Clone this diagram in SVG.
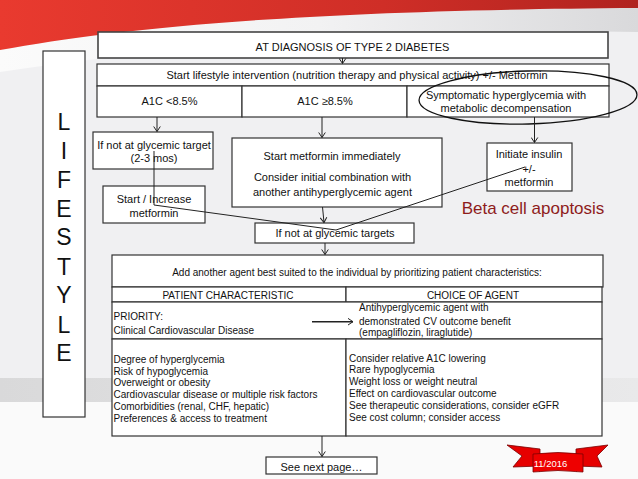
<svg xmlns="http://www.w3.org/2000/svg" width="638" height="479" viewBox="0 0 638 479">
<defs>
<linearGradient id="red" x1="0" y1="0" x2="1" y2="0">
<stop offset="0" stop-color="#e93a2f"/>
<stop offset="0.6" stop-color="#cf2e27"/>
<stop offset="1" stop-color="#b0231f"/>
</linearGradient>
<linearGradient id="under" x1="0" y1="0" x2="1" y2="0">
<stop offset="0" stop-color="#fbfbfb"/>
<stop offset="0.5" stop-color="#f2f2f3"/>
<stop offset="1" stop-color="#d9d9db"/>
</linearGradient>
<linearGradient id="band" x1="0" y1="0" x2="1" y2="0">
<stop offset="0" stop-color="#d9d9da"/>
<stop offset="1" stop-color="#e9e9ea"/>
</linearGradient>
<marker id="arr" viewBox="-6 -4 7 8" refX="0" refY="0" markerWidth="7" markerHeight="8" markerUnits="userSpaceOnUse" orient="auto">
<path d="M-5,-3.3 L0,0 L-5,3.3" fill="none" stroke="#222" stroke-width="1"/>
</marker>
<style>
.bx{fill:#fff;stroke:#333;stroke-width:1.2}
.t{font-family:"Liberation Sans",Arial,sans-serif;font-size:11px;fill:#111;text-anchor:middle}
.s{font-family:"Liberation Sans",Arial,sans-serif;font-size:10px;fill:#111}
.c{text-anchor:middle}
.big{font-family:"Liberation Sans",Arial,sans-serif;font-size:23px;fill:#111;text-anchor:middle}
.ln{fill:none;stroke:#222;stroke-width:1}
</style>
</defs>

<!-- background -->
<rect x="0" y="0" width="638" height="479" fill="#f0f0f2"/>
<rect x="0" y="378" width="638" height="24" fill="url(#band)"/>
<rect x="0" y="402" width="638" height="77" fill="#fafafa"/>
<path d="M0,50 C120,28 300,10 638,8 L638,32 C420,28 200,42 0,72 Z" fill="url(#under)"/>
<path d="M0,0 H638 V8 C300,10 120,28 0,50 Z" fill="url(#red)"/>

<!-- nodes -->
<g id="diagnosis">
<rect class="bx" x="98" y="32" width="510" height="26" style="stroke:#444;stroke-width:1.6"/>
<text class="t" x="352.5" y="50.8">AT DIAGNOSIS OF TYPE 2 DIABETES</text>
</g>

<g id="lifestyle-side">
<rect class="bx" x="43" y="51" width="42" height="366"/>
<text class="big" x="64" y="130">L</text>
<text class="big" x="64" y="159">I</text>
<text class="big" x="64" y="188">F</text>
<text class="big" x="64" y="217">E</text>
<text class="big" x="64" y="245">S</text>
<text class="big" x="64" y="275">T</text>
<text class="big" x="64" y="303">Y</text>
<text class="big" x="64" y="333">L</text>
<text class="big" x="64" y="361">E</text>
</g>

<g id="lifestyle-row">
<rect class="bx" x="97" y="64" width="512" height="22"/>
<text class="t" x="357" y="79">Start lifestyle intervention (nutrition therapy and physical activity) +/- Metformin</text>
</g>

<g id="a1c-low">
<rect class="bx" x="97" y="86" width="145" height="31"/>
<text class="t" x="169.5" y="105">A1C &lt;8.5%</text>
</g>
<g id="a1c-high">
<rect class="bx" x="242" y="86" width="165" height="31"/>
<text class="t" x="325" y="105">A1C ≥8.5%</text>
</g>
<g id="symptomatic">
<rect class="bx" x="407" y="86" width="202" height="31"/>
<text class="t" x="506" y="99">Symptomatic hyperglycemia with</text>
<text class="t" x="506" y="112.3">metabolic decompensation</text>
<ellipse cx="528" cy="97.5" rx="109" ry="26.5" fill="none" stroke="#111" stroke-width="1.3" transform="rotate(-1.5 528 97.5)"/>
</g>

<g id="not-target">
<rect class="bx" x="93" y="132" width="120" height="37"/>
<text class="t" x="154" y="149">If not at glycemic target</text>
<text class="t" x="154" y="162.3">(2-3 mos)</text>
</g>
<g id="increase">
<rect class="bx" x="103" y="186" width="102" height="37"/>
<text class="t" x="154" y="203">Start / Increase</text>
<text class="t" x="154" y="217.3">metformin</text>
</g>
<g id="metformin-now">
<rect class="bx" x="232" y="138" width="210" height="69"/>
<text class="t" x="332" y="160">Start metformin immediately</text>
<text class="t" x="332.5" y="181">Consider initial combination with</text>
<text class="t" x="332.5" y="196">another antihyperglycemic agent</text>
</g>
<g id="insulin">
<rect class="bx" x="487" y="143" width="85" height="48"/>
<text class="t" x="529" y="158">Initiate insulin</text>
<text class="t" x="529" y="173">+/-</text>
<text class="t" x="529" y="185.7">metformin</text>
</g>
<g id="beta">
<text x="533" y="214" style="font-family:'Liberation Sans',Arial,sans-serif;font-size:17px;fill:#8e1c1c;text-anchor:middle">Beta cell apoptosis</text>
</g>
<g id="not-targets">
<rect class="bx" x="255" y="223" width="159" height="20"/>
<text class="t" x="335" y="237">If not at glycemic targets</text>
</g>

<g id="agent-table">
<rect class="bx" x="112" y="255" width="491" height="32"/>
<text class="s c" x="357" y="275.5">Add another agent best suited to the individual by prioritizing patient characteristics:</text>
<rect class="bx" x="112" y="287" width="234" height="15"/>
<rect class="bx" x="346" y="287" width="256" height="15"/>
<text class="s c" x="228" y="299.2">PATIENT CHARACTERISTIC</text>
<text class="s c" x="473" y="299.2">CHOICE OF AGENT</text>
<rect class="bx" x="112" y="302" width="490" height="37"/>
<text class="s" x="113.5" y="319.5">PRIORITY:</text>
<text class="s" x="113.5" y="333.5">Clinical Cardiovascular Disease</text>
<text class="s" x="359" y="310.5">Antihyperglycemic agent with</text>
<text class="s" x="359" y="324.5">demonstrated CV outcome benefit</text>
<text class="s" x="359" y="336.2">(empagliflozin, liraglutide)</text>
<rect class="bx" x="112" y="339" width="234" height="97"/>
<rect class="bx" x="346" y="339" width="256" height="97"/>
<text class="s" x="113.5" y="363">Degree of hyperglycemia</text>
<text class="s" x="113.5" y="374.7">Risk of hypoglycemia</text>
<text class="s" x="113.5" y="386.4">Overweight or obesity</text>
<text class="s" x="113.5" y="398.1">Cardiovascular disease or multiple risk factors</text>
<text class="s" x="113.5" y="409.8">Comorbidities (renal, CHF, hepatic)</text>
<text class="s" x="113.5" y="421.5">Preferences &amp; access to treatment</text>
<text class="s" x="349" y="361.5">Consider relative A1C lowering</text>
<text class="s" x="349" y="373.3">Rare hypoglycemia</text>
<text class="s" x="349" y="385.1">Weight loss or weight neutral</text>
<text class="s" x="349" y="396.9">Effect on cardiovascular outcome</text>
<text class="s" x="349" y="408.7">See therapeutic considerations, consider eGFR</text>
<text class="s" x="349" y="420.5">See cost column; consider access</text>
</g>

<g id="next-page">
<rect class="bx" x="266" y="457" width="111" height="17"/>
<text class="t" x="321.5" y="470.5">See next page…</text>
</g>

<g id="date-ribbon">
<path d="M507,445 L540,449 L540,466 L513,467 L522,456 Z" fill="#e60000" stroke="#7a0000" stroke-width="0.8"/>
<path d="M608,445 L576,449 L576,466 L602,467 L597,456 Z" fill="#e60000" stroke="#7a0000" stroke-width="0.8"/>
<path d="M533,466 L540,466 L540,472 Z" fill="#8a0000"/>
<path d="M583,466 L576,466 L576,472 Z" fill="#8a0000"/>
<path d="M533,454 Q558,451 583,454 L583,472 Q558,469 533,472 Z" fill="#ee0000" stroke="#7a0000" stroke-width="0.8"/>
<text x="550.5" y="466.5" style="font-family:'Liberation Sans',Arial,sans-serif;font-size:9.5px;fill:#fff;text-anchor:middle">11/2016</text>
</g>

<!-- connectors -->
<g id="connectors">
<line class="ln" x1="342.5" y1="58" x2="342.5" y2="63.5" marker-end="url(#arr)"/>
<line class="ln" x1="157" y1="117" x2="157" y2="131.5" marker-end="url(#arr)"/>
<line class="ln" x1="322" y1="117" x2="322" y2="137.5" marker-end="url(#arr)"/>
<line class="ln" x1="534.5" y1="117" x2="534.5" y2="142.5" marker-end="url(#arr)"/>
<line class="ln" x1="322.5" y1="207" x2="324" y2="222.5" marker-end="url(#arr)"/>
<line class="ln" x1="325" y1="243" x2="325" y2="254.5" marker-end="url(#arr)"/>
<line class="ln" x1="312" y1="321.7" x2="353" y2="321.7" style="stroke-width:1.5" marker-end="url(#arr)"/>
<line class="ln" x1="322" y1="436" x2="322" y2="456.5" marker-end="url(#arr)"/>
<polyline class="ln" points="154,151 154,205 336,230"/>
<line class="ln" x1="525" y1="167" x2="336" y2="230"/>
</g>
</svg>
